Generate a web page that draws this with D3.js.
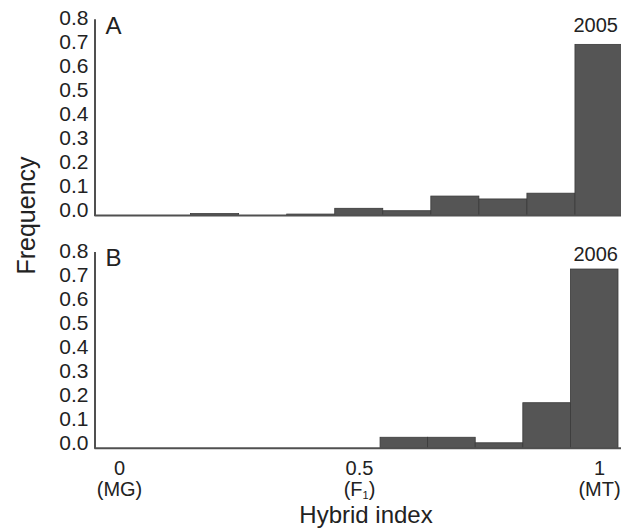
<!DOCTYPE html>
<html>
<head>
<meta charset="utf-8">
<script src="https://cdn.jsdelivr.net/npm/d3@7"></script>
<style>
  body { margin: 0; background: #fff; }
  svg { font-family: "Liberation Sans", Arial, sans-serif; }
</style>
</head>
<body>
<svg id="chart" width="621" height="532"></svg>
<script>
// bin centres of the hybrid index
const bins = [0, 0.1, 0.2, 0.3, 0.4, 0.5, 0.6, 0.7, 0.8, 0.9, 1.0]
const freq2005 = [0, 0, 0.008, 0, 0.006, 0.03, 0.02, 0.081, 0.069, 0.093, 0.713]
const freq2006 = [0, 0, 0, 0, 0, 0, 0.046, 0.046, 0.023, 0.19, 0.747]
const yTicks = [0, 0.1, 0.2, 0.3, 0.4, 0.5, 0.6, 0.7, 0.8]
const xTicks = [0, 0.5, 1]
const xTickNames = ['(MG)', '(F1)', '(MT)']

const svg = d3.select('#chart')
const W = 621

const panels = [
    { letter: 'A', year: '2005', values: freq2005, base: 215.5, right: 623, letterY: 34, yearY: 32 },
    { letter: 'B', year: '2006', values: freq2006, base: 448.3, right: 618, letterY: 266, yearY: 261 }
]

const left = 94.5
const pxPerUnit = 240

panels.forEach(p => {
    let x = d3.scaleLinear().domain([-0.05, 1.05]).range([left, p.right])
    let y = d3.scaleLinear().domain([0, 0.82]).range([p.base, p.base - 0.82 * pxPerUnit])

    let g = svg.append('g')

    let data = bins.map((c, i) => ({ c: c, v: p.values[i] })).filter(d => d.v > 0)

    g.selectAll('rect.bar')
        .data(data)
        .enter()
        .append('rect')
        .classed('bar', true)
        .attr('x', d => x(d.c - 0.05))
        .attr('width', d => x(d.c + 0.05) - x(d.c - 0.05))
        .attr('y', d => y(d.v))
        .attr('height', d => y(0) - y(d.v))
        .attr('fill', '#555')
        .attr('stroke', '#3a3a3a')
        .attr('stroke-width', 0.8)

    // baseline
    g.append('line')
        .attr('x1', left).attr('x2', W)
        .attr('y1', y(0)).attr('y2', y(0))
        .attr('stroke', '#505050')
        .attr('stroke-width', 2)

    let yAxis = g.append('g')
        .attr('transform', `translate(${left},0)`)
        .call(d3.axisLeft(y).tickValues(yTicks).tickFormat(d3.format('.1f')).tickSize(0).tickSizeOuter(0).tickPadding(6))

    yAxis.select('.domain').attr('stroke', '#505050').attr('stroke-width', 2)
    yAxis.selectAll('text')
        .attr('dy', '0.06em')
        .attr('font-size', 21)
        .attr('font-family', '"Liberation Sans", Arial, sans-serif')
        .attr('fill', '#222')

    g.append('text')
        .attr('x', left + 11)
        .attr('y', p.letterY)
        .attr('font-size', 24)
        .attr('fill', '#222')
        .text(p.letter)

    g.append('text')
        .attr('x', 618)
        .attr('y', p.yearY)
        .attr('text-anchor', 'end')
        .attr('font-size', 20)
        .attr('fill', '#222')
        .text(p.year)
})

// x axis labels under panel B
let xb = d3.scaleLinear().domain([0, 1]).range([119, 599])
let xl = svg.append('g')
    .attr('transform', 'translate(0,456)')
    .call(d3.axisBottom(xb).tickValues(xTicks).tickFormat(d => d3.format('')(d)).tickSize(0).tickPadding(0))
xl.select('.domain').remove()
xl.selectAll('.tick text')
    .attr('y', 19)
    .attr('dy', 0)
    .attr('font-size', 20)
    .attr('font-family', '"Liberation Sans", Arial, sans-serif')
    .attr('fill', '#222')

xl.selectAll('.tick').each(function (d, i) {
    let t = d3.select(this).append('text')
        .attr('y', 40)
        .attr('text-anchor', 'middle')
        .attr('font-size', 20)
        .attr('fill', '#222')
    let name = xTickNames[i]
    if (name === '(F1)') {
        t.append('tspan').text('(F')
        t.append('tspan').attr('font-size', 11).attr('dy', 3).text('1')
        t.append('tspan').attr('dy', -3).text(')')
    } else {
        t.text(name)
    }
})

svg.append('text')
    .attr('x', 366)
    .attr('y', 523)
    .attr('text-anchor', 'middle')
    .attr('font-size', 24)
    .attr('fill', '#222')
    .text('Hybrid index')

svg.append('text')
    .attr('transform', 'translate(35,215.5) rotate(-90)')
    .attr('text-anchor', 'middle')
    .attr('font-size', 25)
    .attr('fill', '#222')
    .text('Frequency')
</script>
</body>
</html>
